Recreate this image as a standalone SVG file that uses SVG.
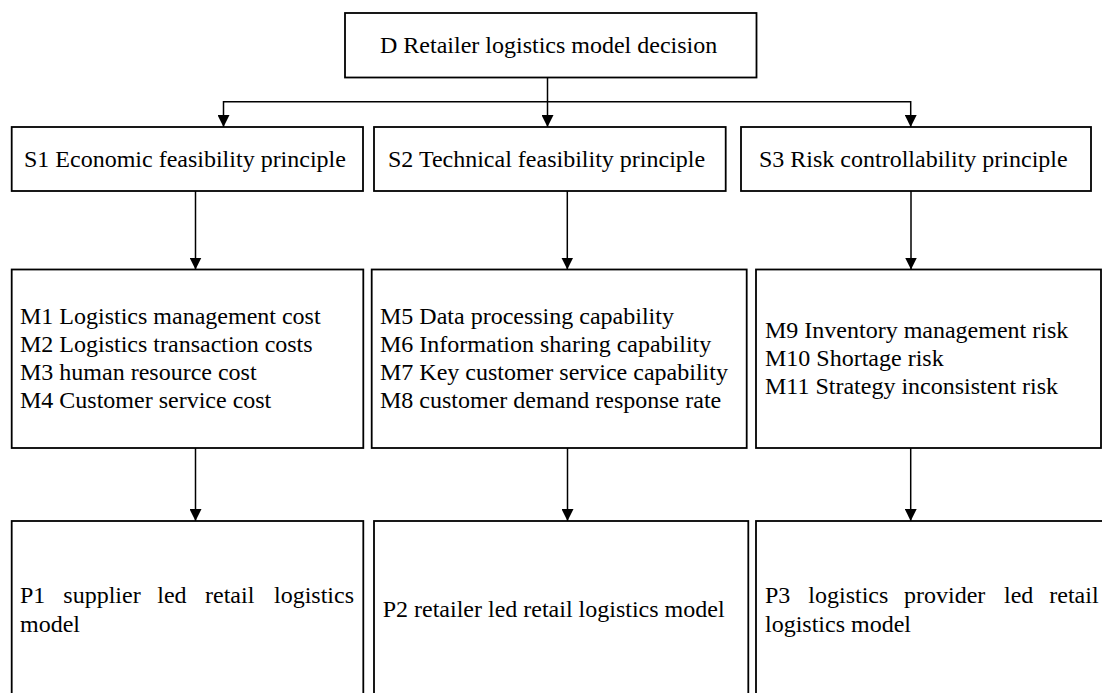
<svg xmlns="http://www.w3.org/2000/svg" width="1102" height="693" viewBox="0 0 1102 693">
  <style>
    .box { fill: #ffffff; stroke: #000000; stroke-width: 1.8; }
    .conn { fill: none; stroke: #000000; stroke-width: 1.5; }
    text { font-family: "Liberation Serif", "Times New Roman", serif; font-size: 24px; fill: #000000; }
  </style>
  <defs>
    <marker id="arrow" markerUnits="userSpaceOnUse" markerWidth="12" markerHeight="12" refX="12" refY="6" orient="auto">
      <path d="M0,0 L12,6 L0,12 z" fill="#000000"/>
    </marker>
  </defs>

  <rect width="1102" height="693" fill="#ffffff"/>

  <!-- decision goal -->
  <g id="node-D">
    <rect class="box" x="345" y="13" width="411.5" height="64.5"/>
    <text x="380" y="53">D Retailer logistics model decision</text>
  </g>

  <!-- principles -->
  <g id="node-S1">
    <rect class="box" x="11.7" y="127" width="351.3" height="64"/>
    <text x="24" y="167">S1 Economic feasibility principle</text>
  </g>
  <g id="node-S2">
    <rect class="box" x="374" y="127" width="351.7" height="64"/>
    <text x="388" y="167">S2 Technical feasibility principle</text>
  </g>
  <g id="node-S3">
    <rect class="box" x="741" y="127" width="350" height="64"/>
    <text x="759" y="167">S3 Risk controllability principle</text>
  </g>

  <!-- indicators -->
  <g id="node-M1">
    <rect class="box" x="11.7" y="269.5" width="351.6" height="178.5"/>
    <text x="20" y="323.5">M1 Logistics management cost</text>
    <text x="20" y="351.8">M2 Logistics transaction costs</text>
    <text x="20" y="380.1">M3 human resource cost</text>
    <text x="20" y="408.4">M4 Customer service cost</text>
  </g>
  <g id="node-M2">
    <rect class="box" x="371.7" y="269.5" width="375" height="178.5"/>
    <text x="380" y="323.5">M5 Data processing capability</text>
    <text x="380" y="351.8">M6 Information sharing capability</text>
    <text x="380" y="380.1">M7 Key customer service capability</text>
    <text x="380" y="408.4">M8 customer demand response rate</text>
  </g>
  <g id="node-M3">
    <rect class="box" x="756" y="269.5" width="345" height="178.5"/>
    <text x="765" y="337.7">M9 Inventory management risk</text>
    <text x="765" y="366">M10 Shortage risk</text>
    <text x="765" y="394.3">M11 Strategy inconsistent risk</text>
  </g>

  <!-- logistics models (first lines justified word by word) -->
  <g id="node-P1">
    <rect class="box" x="11.7" y="521" width="351.6" height="190"/>
    <text y="603"><tspan x="20">P1</tspan> <tspan x="63.3">supplier</tspan> <tspan x="157.3">led</tspan> <tspan x="205">retail</tspan> <tspan x="274">logistics</tspan></text>
    <text x="20" y="631.7">model</text>
  </g>
  <g id="node-P2">
    <rect class="box" x="374" y="521" width="374.3" height="190"/>
    <text x="382.7" y="616.7">P2 retailer led retail logistics model</text>
  </g>
  <g id="node-P3">
    <rect class="box" x="756" y="521" width="352" height="190"/>
    <text y="603"><tspan x="765">P3</tspan> <tspan x="808.3">logistics</tspan> <tspan x="904">provider</tspan> <tspan x="1004">led</tspan> <tspan x="1049.3">retail</tspan></text>
    <text x="765" y="631.7">logistics model</text>
  </g>

  <!-- connectors -->
  <g id="connectors">
    <line class="conn" x1="547.5" y1="77.5" x2="547.5" y2="101.7"/>
    <line class="conn" x1="223.5" y1="101.7" x2="910.7" y2="101.7"/>
    <line class="conn" x1="223.5" y1="101" x2="223.5" y2="127" marker-end="url(#arrow)"/>
    <line class="conn" x1="547.5" y1="101" x2="547.5" y2="127" marker-end="url(#arrow)"/>
    <line class="conn" x1="910.7" y1="101" x2="910.7" y2="127" marker-end="url(#arrow)"/>

    <line class="conn" x1="195.5" y1="191" x2="195.5" y2="269.5" marker-end="url(#arrow)"/>
    <line class="conn" x1="567.3" y1="191" x2="567.3" y2="269.5" marker-end="url(#arrow)"/>
    <line class="conn" x1="911" y1="191" x2="911" y2="269.5" marker-end="url(#arrow)"/>

    <line class="conn" x1="195.5" y1="448" x2="195.5" y2="521" marker-end="url(#arrow)"/>
    <line class="conn" x1="567.5" y1="448" x2="567.5" y2="521" marker-end="url(#arrow)"/>
    <line class="conn" x1="910.7" y1="448" x2="910.7" y2="521" marker-end="url(#arrow)"/>
  </g>
</svg>
